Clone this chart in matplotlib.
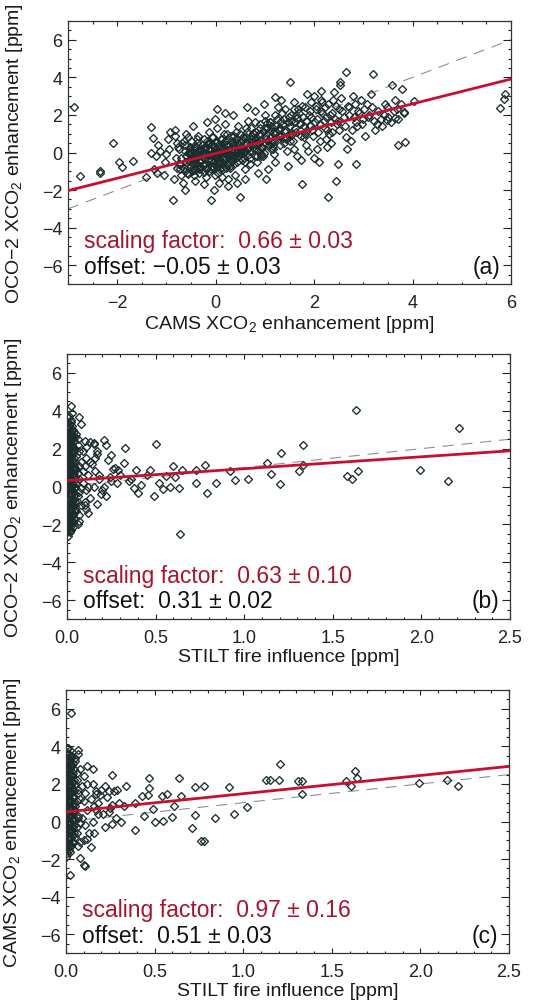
import numpy as np
import matplotlib
matplotlib.use("Agg")
import matplotlib.pyplot as plt
from matplotlib.ticker import MultipleLocator

plt.rcParams['font.family'] = ['Liberation Sans', 'DejaVu Sans']
plt.rcParams['mathtext.default'] = 'regular'

# panel (a): CAMS vs OCO-2 enhancement
a_x = [
    -2.88, -2.75, -2.36, -2.36, -2.08, -1.97, -1.90, -1.68, -1.41, -1.31,
    -1.27, -1.31, -0.87, -0.09, 0.49, 0.03, 1.52, 1.20, 1.76, 2.28,
    2.45, 2.86, 2.09, 2.48, 3.19, 2.65, 2.53, 3.59, 3.78, 3.71,
    3.84, 5.78, 5.88, 5.85, 4.02, 3.48, 3.65, 3.82,
    -1.22, -1.17, -1.25, -1.13, -1.19,
    -1.02, -0.97, -1.05, -0.94, -1.00, -0.92,
    -0.83, -0.78, -0.81, -0.76, -0.85, -0.79, -0.74, -0.82,
    -0.62, -0.57, -0.64, -0.55, -0.60, -0.66, -0.53, -0.59, -0.63, -0.56,
    -0.42, -0.37, -0.44, -0.35, -0.40, -0.46, -0.33, -0.39, -0.43, -0.36, -0.41,
    -0.22, -0.17, -0.24, -0.15, -0.20, -0.26, -0.13, -0.19, -0.23, -0.16, -0.21, -0.18,
    0.02, -0.03, 0.05, -0.05, 0.00, 0.06, -0.02, 0.03, -0.06, 0.01, -0.04, 0.04, 0.07, -0.01,
    0.22, 0.17, 0.24, 0.15, 0.20, 0.26, 0.13, 0.19, 0.23, 0.16, 0.21, 0.18, 0.25,
    0.42, 0.37, 0.44, 0.35, 0.40, 0.46, 0.33, 0.39, 0.43, 0.36, 0.41,
    0.62, 0.57, 0.64, 0.55, 0.60, 0.66, 0.53, 0.59, 0.63, 0.56,
    0.82, 0.77, 0.84, 0.75, 0.80, 0.86, 0.73, 0.79, 0.83,
    1.02, 0.97, 1.04, 0.95, 1.00, 1.06, 0.93, 0.99, 1.03,
    1.22, 1.17, 1.24, 1.15, 1.20, 1.26, 1.13, 1.19,
    1.42, 1.37, 1.44, 1.35, 1.40, 1.46, 1.33, 1.39,
    1.62, 1.57, 1.64, 1.55, 1.60, 1.66, 1.53, 1.59,
    1.82, 1.77, 1.84, 1.75, 1.80, 1.86, 1.73, 1.79,
    2.02, 1.97, 2.04, 1.95, 2.00, 2.06, 1.93, 1.99,
    2.22, 2.17, 2.24, 2.15, 2.20, 2.26, 2.13,
    2.42, 2.37, 2.44, 2.35, 2.40, 2.46, 2.33,
    2.62, 2.57, 2.64, 2.55, 2.60, 2.66, 2.53,
    2.82, 2.77, 2.84, 2.75, 2.80, 2.86,
    3.02, 2.97, 3.04, 2.95, 3.00,
    3.22, 3.17, 3.24, 3.15,
    3.42, 3.37, 3.44, 3.35,
    3.62, 3.57, 3.64,
    3.82, 3.77,
    -0.48, -0.31, -0.12, 0.09, 0.28, 0.47, 0.68, 0.88, 1.09, 1.31,
    -0.52, -0.27, -0.08, 0.11, 0.32, 0.51, 0.71, 0.91, 1.11, 1.29,
    -0.45, -0.29, -0.10, 0.12, 0.30, 0.49, 0.70, 0.92, 1.48, 1.71,
    1.91, 2.11, 2.31, 2.51, 2.71, 2.91, 3.11, 1.68, 1.88, 2.28,
]
a_y = [
    2.42, -1.26, -0.96, -1.09, 0.49, -0.53, -0.79, -0.47, -1.28, 1.37,
    0.79, -0.05, -2.54, -2.53, -2.35, 2.32, 3.77, 2.93, -1.70, -2.39,
    -1.54, -0.60, -0.53, -0.61, 4.18, 4.30, 3.77, 3.58, 3.37, 0.40,
    0.58, 2.37, 3.10, 2.84, 2.72, 1.75, 1.84, 2.16,
    -0.2, 0.4, -0.9, 0.1, -1.1,
    -0.5, 0.7, -1.2, 0.2, -0.1, 1.1,
    0.9, -0.8, -0.3, 0.3, -1.4, 0.5, -0.6, 1.2,
    -1.0, 0.0, 0.6, -0.4, 1.0, -1.6, 0.3, -0.7, -2.0, 0.8,
    -0.2, 0.5, -1.2, 0.1, -0.6, 1.4, -0.9, 0.3, -1.5, 0.9, -0.3,
    0.2, -0.8, 0.7, -0.4, -1.3, 0.0, 1.1, -0.1, -1.7, 0.5, -0.6, 1.6,
    -0.5, 0.3, -1.1, 0.8, -0.2, -1.6, 0.1, 1.3, -0.8, 0.5, -2.0, 0.0, -0.4, 1.8,
    0.4, -0.3, 1.0, -0.9, 0.1, -1.4, 0.7, 1.5, -0.6, 0.2, -0.1, 2.1, -1.8,
    0.0, 0.9, -0.5, 0.4, -1.2, 1.4, -0.2, 0.6, -1.6, 2.0, 0.2,
    0.5, -0.3, 1.1, 0.0, -0.9, 1.7, 0.3, -1.4, 2.4, 0.8,
    0.2, 1.0, -0.5, 0.6, 1.6, -1.1, 0.4, 2.2, -0.2,
    0.7, -0.2, 1.3, 0.3, 2.0, -0.9, 1.0, 2.6, -1.4,
    1.1, 0.2, 1.8, 0.6, -0.5, 2.4, 1.4, -0.1,
    0.8, 1.5, 0.1, 2.1, 1.1, -0.7, 2.8, 0.5,
    1.3, 0.6, 2.0, 1.0, 2.7, -0.2, 1.7, 0.2,
    1.0, 1.9, 0.4, 2.5, 1.4, 3.1, -0.4, 0.8,
    1.6, 0.9, 2.3, 1.2, 3.0, 0.2, 1.9, -0.3,
    1.3, 2.1, 0.7, 2.8, 1.7, 0.3, 3.3,
    1.8, 1.1, 2.5, 0.5, 3.2, 1.5, 2.0,
    1.4, 2.2, 0.8, 2.9, 1.9, 0.2, 3.6,
    1.9, 1.2, 2.6, 0.6, 3.0, 1.6,
    2.3, 1.5, 0.9, 2.8, 1.8,
    1.7, 2.4, 1.2, 3.1,
    2.0, 1.4, 2.6, 1.8,
    2.2, 1.6, 2.8,
    2.1, 2.6,
    -0.4, -0.7, -0.3, -0.6, 0.0, -0.1, 0.3, 0.5, 0.4, 0.9,
    0.1, 0.0, 0.4, 0.2, 0.6, 0.1, 0.7, 1.3, 1.6, 1.2,
    -0.9, 0.2, -0.9, -0.3, -0.8, 0.3, -0.6, -0.2, 1.9, 1.5,
    2.2, 0.6, 1.0, 1.2, 2.4, 2.1, 2.0, 2.3, 0.1, 2.6,
]
# dense core of panel (a)
a_core_x = [
    -0.72, -0.70, -0.74, -0.71, -0.69, -0.73,
    -0.61, -0.63, -0.59, -0.62, -0.60, -0.64,
    -0.50, -0.52, -0.48, -0.51, -0.49, -0.53,
    -0.41, -0.43, -0.39, -0.42, -0.40, -0.38,
    -0.30, -0.32, -0.28, -0.31, -0.29, -0.33,
    -0.21, -0.23, -0.19, -0.22, -0.20, -0.18,
    -0.10, -0.12, -0.08, -0.11, -0.09, -0.13, -0.07,
    0.01, -0.01, 0.03, 0.00, 0.02, -0.02, 0.04,
    0.09, 0.07, 0.11, 0.08, 0.10, 0.06, 0.12,
    0.19, 0.17, 0.21, 0.18, 0.20, 0.16, 0.22,
    0.31, 0.29, 0.33, 0.30, 0.32, 0.28,
    0.39, 0.37, 0.41, 0.38, 0.40, 0.42,
    0.51, 0.49, 0.53, 0.50, 0.52, 0.48,
    0.60, 0.58, 0.62, 0.59, 0.61, 0.63,
    0.71, 0.69, 0.73, 0.70, 0.72, 0.68,
    0.80, 0.78, 0.82, 0.79, 0.81,
    0.91, 0.89, 0.93, 0.90, 0.92,
    1.00, 0.98, 1.02, 0.99, 1.01,
    1.12, 1.10, 1.14, 1.11, 1.13,
    1.21, 1.19, 1.23, 1.20,
    1.31, 1.29, 1.33, 1.30,
    1.41, 1.39, 1.43, 1.40,
    1.52, 1.50, 1.54, 1.51,
    1.61, 1.59, 1.63,
    1.72, 1.70, 1.74,
    1.83, 1.81, 1.85,
    1.92, 1.90, 1.94,
    2.05, 2.03, 2.07,
    2.14, 2.12, 2.16,
    2.25, 2.23, 2.27,
    2.36, 2.34, 2.38,
    2.50, 2.48, 2.70, 2.68, 2.90, 2.88,
    3.10, 3.08, 3.30, 3.28, 3.50, 3.48, 3.70, 3.68,
    -0.55, -0.46, -0.35, -0.25, -0.15, -0.05, 0.05, 0.14, 0.24, 0.35,
    -0.54, -0.45, -0.34, -0.26, -0.14, -0.04, 0.06, 0.15, 0.26, 0.36,
    -0.56, -0.44, -0.36, -0.24, -0.16, -0.06, 0.04, 0.13, 0.25, 0.34,
    0.45, 0.55, 0.66, 0.75, 0.86, 0.96, 1.06, 1.16, 1.26, 1.36,
    0.44, 0.56, 0.65, 0.76, 0.85, 0.95, 1.05, 1.17, 1.46, 1.66,
]
a_core_y = [
    -0.9, -0.3, 0.2, -1.2, 0.5, -0.6,
    -0.5, 0.1, -1.1, 0.4, -0.2, -0.8,
    -0.7, 0.0, -0.3, 0.6, -1.0, 0.2,
    -0.4, 0.3, -0.9, 0.0, -0.6, 0.7,
    -0.2, -0.8, 0.4, -0.5, 0.1, -1.1,
    0.0, -0.6, 0.3, -0.3, -0.9, 0.6,
    -0.4, 0.2, -0.7, 0.5, -0.1, -1.0, 0.8,
    -0.3, 0.2, -0.7, 0.6, -0.1, -1.2, 0.4,
    0.0, -0.5, 0.3, -0.9, 0.7, -0.2, -1.3,
    -0.4, 0.3, -0.1, 0.6, -0.8, 1.0, 0.1,
    0.1, -0.3, 0.5, -0.7, 0.9, -0.1,
    0.3, -0.2, 0.7, -0.6, 0.1, 1.1,
    0.2, 0.6, -0.4, 1.0, -0.1, 0.4,
    0.4, 0.0, 0.8, -0.5, 1.3, 0.2,
    0.5, 0.1, 0.9, -0.3, 1.3, 0.3,
    0.7, 0.2, 1.1, -0.2, 0.4,
    0.6, 1.0, 0.3, 1.5, -0.1,
    0.9, 0.4, 1.3, 0.0, 1.7,
    0.8, 1.2, 0.5, 1.6, 0.2,
    1.0, 0.6, 1.4, 2.0,
    1.3, 0.9, 1.7, 0.4,
    1.2, 1.8, 0.7, 2.3,
    1.4, 1.0, 2.0, 0.6,
    1.6, 2.3, 1.1,
    1.5, 2.1, 0.9,
    1.7, 2.4, 1.2,
    1.4, 2.0, 2.7,
    1.8, 2.5, 1.1,
    2.2, 1.5, 2.7,
    1.9, 2.4, 1.2,
    2.1, 1.6, 2.8,
    2.3, 1.7, 2.0, 2.5, 2.2, 1.4,
    1.9, 2.6, 2.2, 1.5, 1.9, 2.4, 1.8, 2.3,
    -0.45, -0.55, -0.15, -0.65, -0.35, -0.75, -0.25, -0.55, -0.05, -0.35,
    -0.05, 0.15, -0.45, 0.25, -0.15, 0.35, -0.55, 0.45, 0.15, 0.55,
    -1.15, -0.95, -0.65, -1.05, 0.45, -0.85, 0.05, -0.75, -0.65, -0.45,
    0.15, 0.65, 0.25, 0.75, 0.55, 1.15, 0.65, 1.05, 1.25, 0.75,
    -0.25, 0.85, -0.15, 1.05, 0.15, 0.25, 1.55, 0.35, 1.65, 1.85,
]

# panel (b): STILT fire influence vs OCO-2 enhancement
b_x = [
    0.02, 0.07, 0.03, 0.13, 0.15, 0.21, 0.22, 0.17, 0.25, 0.33,
    0.32, 0.29, 0.39, 0.50, 0.47, 0.60, 0.65, 0.64, 0.40, 0.49,
    0.54, 0.56, 0.63, 0.73, 0.73, 0.78, 0.79, 0.84, 0.92, 0.95,
    1.02, 1.13, 1.15, 1.21, 1.20, 1.31, 1.33, 1.33, 1.58, 1.61,
    1.64, 1.63, 1.99, 2.15, 2.21,
    0.05, 0.06, 0.05, 0.07, 0.06, 0.05, 0.07, 0.06, 0.05, 0.07,
    0.08, 0.06, 0.07, 0.08, 0.05, 0.07, 0.08, 0.06, 0.08, 0.07, 0.06,
    0.10, 0.09, 0.11, 0.10, 0.12, 0.09, 0.11, 0.13, 0.10, 0.12,
    0.11, 0.13, 0.09, 0.12, 0.10, 0.11,
    0.15, 0.17, 0.14, 0.16, 0.18, 0.15, 0.19, 0.17, 0.16, 0.18, 0.20,
    0.23, 0.26, 0.24, 0.28, 0.22, 0.27, 0.25, 0.30, 0.21,
    0.36, 0.42, 0.45, 0.38, 0.52, 0.58, 0.61, 0.35,
]
b_y = [
    4.25, 3.68, 3.90, 2.35, 2.27, 2.48, 2.20, 1.86, 1.68, 2.04,
    1.24, 0.88, 0.88, 2.27, 0.88, 1.10, 0.88, -2.51, -0.35, -0.48,
    -0.14, 0.53, -0.09, 0.88, 0.18, 1.15, -0.32, 0.21, 0.80, 0.32,
    0.39, 1.24, 0.67, 1.77, 0.14, 0.80, 2.21, 1.15, 0.58, 0.39,
    0.80, 4.02, 0.88, 0.30, 3.10,
    2.8, 2.2, 1.6, 1.1, 0.7, 0.2, -0.3, -0.8, -1.3, -1.8,
    3.3, 2.5, 1.9, 1.3, 0.9, 0.4, -0.1, -0.5, -1.0, -1.5, -2.0,
    2.4, 1.9, 1.5, 1.1, 0.6, 0.2, -0.2, -0.6, -1.0, -1.4,
    2.1, 1.3, 0.8, 0.0, -0.8, -1.2,
    2.3, 1.7, 1.2, 0.8, 0.4, 0.0, -0.4, -0.9, 1.5, 0.6, -0.2,
    1.4, 0.9, 0.5, 0.2, -0.5, 1.0, 0.3, 0.6, 0.0,
    0.4, 0.1, 0.6, -0.1, 0.2, 0.0, 0.5, 0.3,
]
# near-zero fire influence column of panel (b)
b_core_x = [
    0.000, 0.000, 0.000, 0.000, 0.000, 0.000, 0.000, 0.000, 0.000, 0.000, 0.000, 0.000, 0.000, 0.000,
    0.005, 0.005, 0.005, 0.005, 0.005, 0.005, 0.005, 0.005, 0.005, 0.005, 0.005, 0.005, 0.005, 0.005, 0.005, 0.005,
    0.010, 0.010, 0.010, 0.010, 0.010, 0.010, 0.010, 0.010, 0.010, 0.010, 0.010, 0.010, 0.010, 0.010,
    0.015, 0.015, 0.015, 0.015, 0.015, 0.015, 0.015, 0.015, 0.015, 0.015, 0.015, 0.015, 0.015, 0.015, 0.015,
    0.020, 0.020, 0.020, 0.020, 0.020, 0.020, 0.020, 0.020, 0.020, 0.020, 0.020, 0.020, 0.020, 0.020,
    0.025, 0.025, 0.025, 0.025, 0.025, 0.025, 0.025, 0.025, 0.025, 0.025, 0.025, 0.025, 0.025, 0.025,
    0.030, 0.030, 0.030, 0.030, 0.030, 0.030, 0.030, 0.030, 0.030, 0.030, 0.030, 0.030, 0.030,
    0.035, 0.035, 0.035, 0.035, 0.035, 0.035, 0.035, 0.035, 0.035, 0.035, 0.035, 0.035, 0.035,
    0.040, 0.040, 0.040, 0.040, 0.040, 0.040, 0.040, 0.040, 0.040, 0.040, 0.040, 0.040, 0.040,
    0.045, 0.045, 0.045, 0.045, 0.045, 0.045, 0.045, 0.045, 0.045,
]
b_core_y = [
    3.4, 2.9, 2.4, 2.0, 1.5, 1.1, 0.6, 0.2, -0.2, -0.7, -1.1, -1.6, -2.0, -2.4,
    3.6, 3.1, 2.7, 2.2, 1.8, 1.4, 1.0, 0.6, 0.2, -0.2, -0.6, -1.0, -1.4, -1.8, -2.2, -2.6,
    3.7, 3.2, 2.6, 2.1, 1.7, 1.3, 0.9, 0.4, 0.0, -0.4, -0.9, -1.3, -1.7, -2.3,
    3.3, 2.9, 2.5, 2.0, 1.6, 1.2, 0.8, 0.4, 0.0, -0.4, -0.8, -1.2, -1.6, -2.0, -2.4,
    3.5, 3.0, 2.5, 2.1, 1.6, 1.2, 0.8, 0.4, 0.0, -0.4, -0.8, -1.2, -1.8, -2.3,
    3.4, 2.8, 2.3, 1.9, 1.5, 1.1, 0.7, 0.3, -0.1, -0.5, -0.9, -1.3, -1.7, -2.1,
    3.2, 2.7, 2.2, 1.8, 1.4, 1.0, 0.6, 0.2, -0.2, -0.6, -1.0, -1.4, -1.9,
    3.0, 2.6, 2.1, 1.7, 1.3, 0.9, 0.5, 0.1, -0.3, -0.7, -1.1, -1.5, -1.9,
    2.9, 2.4, 1.9, 1.5, 1.1, 0.7, 0.3, -0.1, -0.5, -0.9, -1.3, -1.7, -2.1,
    2.6, 2.0, 1.3, 0.9, 0.5, 0.0, -0.4, -0.8, -1.2,
]

# panel (c): STILT fire influence vs CAMS enhancement
c_x = [
    0.03, 0.07, 0.05, 0.12, 0.15, 0.26, 0.34, 0.29, 0.24, 0.17,
    0.22, 0.39, 0.43, 0.47, 0.47, 0.46, 0.54, 0.57, 0.64, 0.65,
    0.61, 0.49, 0.55, 0.50, 0.44, 0.39, 0.31, 0.26, 0.60, 0.73,
    0.78, 0.73, 0.71, 0.76, 0.78, 0.84, 0.92, 0.95, 1.02, 1.13,
    1.15, 1.20, 1.21, 1.31, 1.33, 1.33, 1.58, 1.61, 1.63, 1.64,
    1.99, 2.15, 2.21, 0.02, 0.08, 0.10, 0.11, 0.14, 0.12,
    0.05, 0.06, 0.05, 0.07, 0.06, 0.05, 0.07, 0.06, 0.05, 0.07,
    0.08, 0.06, 0.07, 0.08, 0.05, 0.07, 0.08, 0.06, 0.08, 0.07,
    0.10, 0.09, 0.11, 0.10, 0.12, 0.09, 0.11, 0.13, 0.10, 0.12,
    0.15, 0.17, 0.14, 0.16, 0.18, 0.15, 0.19, 0.17, 0.16, 0.18, 0.20,
    0.23, 0.26, 0.24, 0.28, 0.22, 0.27, 0.25, 0.30, 0.21, 0.33,
]
c_y = [
    5.79, 3.80, 3.37, 2.93, 2.79, 2.49, 1.88, 1.70, 1.61, 1.44,
    1.88, 1.00, 1.35, 2.32, 1.79, 1.39, 1.35, 1.44, 2.32, 1.35,
    0.82, 0.65, 0.04, 0.00, 0.30, -0.44, 0.00, -0.14, 0.25, 1.84,
    1.88, 0.33, -0.32, -1.05, -1.05, 0.21, 1.82, 0.39, 0.79, 2.19,
    2.19, 2.19, 3.07, 2.14, 2.14, 1.44, 2.14, 1.88, 2.67, 2.32,
    2.05, 2.19, 1.91, -2.86, -1.95, -2.33, -2.37, -1.37, -0.93,
    3.2, 2.6, 2.0, 1.5, 1.1, 0.6, 0.2, -0.3, -0.8, -1.3,
    2.8, 2.2, 1.7, 1.2, 0.8, 0.3, -0.1, -0.6, -1.1, 3.6,
    2.4, 1.9, 1.5, 1.1, 0.6, 0.2, -0.2, -0.6, -1.0, 2.0,
    2.0, 1.6, 1.2, 0.8, 0.4, 0.0, 1.4, 0.6, -0.6, 1.0, 1.7,
    1.3, 0.9, 0.5, 0.2, -0.3, 1.6, 0.7, 1.0, 0.4, 0.8,
]
# near-zero fire influence column of panel (c)
c_core_x = [
    0.000, 0.000, 0.000, 0.000, 0.000, 0.000, 0.000, 0.000, 0.000, 0.000, 0.000, 0.000, 0.000, 0.000,
    0.005, 0.005, 0.005, 0.005, 0.005, 0.005, 0.005, 0.005, 0.005, 0.005, 0.005, 0.005, 0.005, 0.005,
    0.010, 0.010, 0.010, 0.010, 0.010, 0.010, 0.010, 0.010, 0.010, 0.010, 0.010, 0.010, 0.010,
    0.015, 0.015, 0.015, 0.015, 0.015, 0.015, 0.015, 0.015, 0.015, 0.015, 0.015, 0.015, 0.015,
    0.020, 0.020, 0.020, 0.020, 0.020, 0.020, 0.020, 0.020, 0.020, 0.020, 0.020, 0.020, 0.020,
    0.025, 0.025, 0.025, 0.025, 0.025, 0.025, 0.025, 0.025, 0.025, 0.025, 0.025, 0.025, 0.025,
    0.030, 0.030, 0.030, 0.030, 0.030, 0.030, 0.030, 0.030, 0.030, 0.030, 0.030, 0.030,
    0.035, 0.035, 0.035, 0.035, 0.035, 0.035, 0.035, 0.035, 0.035, 0.035, 0.035, 0.035,
    0.040, 0.040, 0.040, 0.040, 0.040, 0.040, 0.040, 0.040, 0.040, 0.040, 0.040,
    0.045, 0.045, 0.045, 0.045, 0.045, 0.045, 0.045, 0.045,
]
c_core_y = [
    3.7, 3.2, 2.7, 2.2, 1.8, 1.3, 0.9, 0.5, 0.1, -0.3, -0.7, -1.1, -1.5, -1.9,
    3.9, 3.4, 2.9, 2.4, 2.0, 1.6, 1.2, 0.8, 0.4, 0.0, -0.4, -0.8, -1.2, -1.7,
    3.9, 3.3, 2.8, 2.3, 1.9, 1.5, 1.1, 0.7, 0.3, -0.1, -0.5, -0.9, -1.4,
    3.6, 3.1, 2.6, 2.2, 1.8, 1.4, 1.0, 0.6, 0.2, -0.2, -0.6, -1.0, -1.5,
    3.5, 3.0, 2.5, 2.0, 1.6, 1.2, 0.8, 0.4, 0.0, -0.4, -0.8, -1.2, -1.6,
    3.8, 3.3, 2.8, 2.3, 1.9, 1.5, 1.1, 0.7, 0.3, -0.1, -0.5, -0.9, -1.3,
    3.4, 2.9, 2.4, 1.9, 1.5, 1.1, 0.7, 0.3, -0.1, -0.5, -0.9, -1.3,
    3.5, 3.0, 2.5, 2.1, 1.7, 1.3, 0.9, 0.5, 0.1, -0.3, -0.7, -1.1,
    3.1, 2.6, 2.1, 1.7, 1.3, 0.9, 0.5, 0.1, -0.3, -0.7, -1.1,
    2.8, 2.2, 1.6, 1.0, 0.6, 0.2, -0.2, -0.6,
]

panels = [
    dict(x=a_x + a_core_x, y=a_y + a_core_y, xlim=(-3, 6), xmaj=2, xmin=0.5,
         slope=0.66, off=-0.05,
         sf='0.66 \u00b1 0.03', of='\u22120.05 \u00b1 0.03', tag='(a)', sep=' ',
         xlabel='CAMS XCO$_2$ enhancement [ppm]',
         ylabel='OCO\u22122 XCO$_2$ enhancement [ppm]', fmt='{:.0f}'),
    dict(x=b_x + b_core_x, y=b_y + b_core_y, xlim=(0, 2.5), xmaj=0.5, xmin=0.1,
         slope=0.63, off=0.31,
         sf='0.63 \u00b1 0.10', of='0.31 \u00b1 0.02', tag='(b)', sep='  ',
         xlabel='STILT fire influence [ppm]',
         ylabel='OCO\u22122 XCO$_2$ enhancement [ppm]', fmt='{:.1f}'),
    dict(x=c_x + c_core_x, y=c_y + c_core_y, xlim=(0, 2.5), xmaj=0.5, xmin=0.1,
         slope=0.97, off=0.51,
         sf='0.97 \u00b1 0.16', of='0.51 \u00b1 0.03', tag='(c)', sep='  ',
         xlabel='STILT fire influence [ppm]',
         ylabel='CAMS XCO$_2$ enhancement [ppm]', fmt='{:.1f}'),
]

RED_LINE = '#c8102e'
RED_TEXT = '#a8142e'
PT_COLOR = '#1a2c2c'

fig = plt.figure(figsize=(5.44, 10.04), dpi=100)
rects = [
    [68 / 544, 1 - 285 / 1004, 443 / 544, 263 / 1004],
    [67 / 544, 1 - 620 / 1004, 443 / 544, 265 / 1004],
    [66 / 544, 1 - 954 / 1004, 443 / 544, 263 / 1004],
]

for rect, p in zip(rects, panels):
    ax = fig.add_axes(rect)
    ax.set_xlim(*p['xlim'])
    ax.set_ylim(-7, 7)

    # 1:1 line
    lx = np.array(p['xlim'], dtype=float)
    ax.plot(lx, lx, color='#909090', lw=0.8, dashes=(10, 7), zorder=1)

    ax.plot(p['x'], p['y'], ls='none', marker='D', ms=4.3, mfc='none',
            mec=PT_COLOR, mew=0.95, zorder=2)

    ax.plot(lx, p['off'] + p['slope'] * lx, color=RED_LINE, lw=2.0, zorder=3)

    ax.xaxis.set_major_locator(MultipleLocator(p['xmaj']))
    ax.xaxis.set_minor_locator(MultipleLocator(p['xmin']))
    ax.yaxis.set_major_locator(MultipleLocator(2))
    ax.yaxis.set_minor_locator(MultipleLocator(0.5))
    ax.xaxis.set_major_formatter(plt.FuncFormatter(
        lambda v, pos, f=p['fmt']: f.format(v).replace('-', '\u2212')))
    ax.tick_params(which='both', direction='in', top=True, right=True,
                   labelsize=13, width=0.8, colors='#222222')
    ax.tick_params(axis='x', which='major', length=3.5, pad=7)
    ax.tick_params(axis='x', which='minor', length=1.8)
    ax.tick_params(axis='y', which='major', length=5.5, pad=4)
    ax.tick_params(axis='y', which='minor', length=2)
    for s in ax.spines.values():
        s.set_linewidth(0.9)
        s.set_color('#333333')

    ax.set_xlabel(p['xlabel'], fontsize=14, labelpad=2, color='#1a1a1a')
    ax.set_ylabel(p['ylabel'], fontsize=14, color='#1a1a1a')
    ax.yaxis.set_label_coords(-0.097, 0.5)

    ax.text(0.036, 0.165, 'scaling factor:  ' + p['sf'],
            transform=ax.transAxes, fontsize=16.5, color=RED_TEXT, va='center')
    ax.text(0.036, 0.068, 'offset:' + p['sep'] + p['of'],
            transform=ax.transAxes, fontsize=16.5, color='#111111', va='center')
    ax.text(0.975, 0.068, p['tag'], transform=ax.transAxes, fontsize=16.5,
            color='#111111', va='center', ha='right')

fig.savefig('out.png', dpi=100)
